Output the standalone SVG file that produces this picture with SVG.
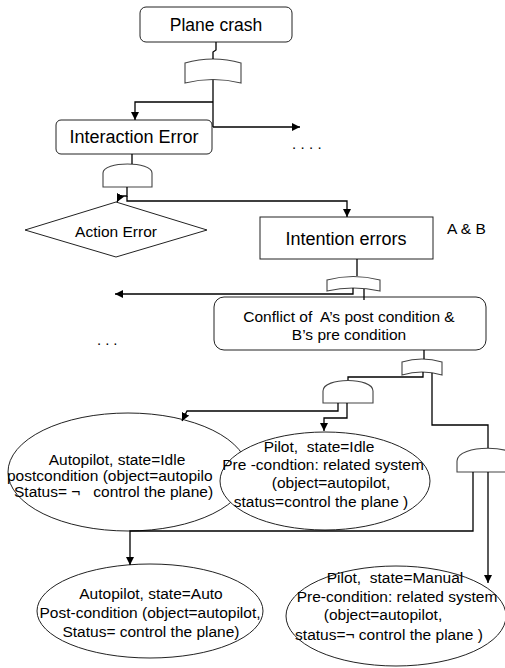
<svg xmlns="http://www.w3.org/2000/svg" width="505" height="668" viewBox="0 0 505 668">
<defs>
<marker id="arr" viewBox="0 0 10 10" refX="10" refY="5" markerWidth="8" markerHeight="8" markerUnits="userSpaceOnUse" orient="auto">
<path d="M0,0 L10,5 L0,10 Z" fill="#000"/>
</marker>
<style>
.box{fill:#fff;stroke:#222;stroke-width:1}
.gate{fill:#fff;stroke:#444;stroke-width:1.1}
.t{font-family:"Liberation Sans",Arial,sans-serif;fill:#000;white-space:pre}
.c{text-anchor:middle}
.ln{fill:none;stroke:#000;stroke-width:1.3}
.la{fill:none;stroke:#000;stroke-width:1.3;marker-end:url(#arr)}
</style>
</defs>
<rect width="505" height="668" fill="#fff"/>

<g id="plane-crash">
<rect class="box" x="140" y="7" width="152" height="35" rx="6"/>
<text class="t c" x="216" y="31" font-size="17.5">Plane crash</text>
</g>
<g id="or-gate-1">
<path class="gate" d="M185,63 Q213,55 241,63 L241,83 Q213,76 185,83 Z"/>
</g>
<g id="interaction-error">
<rect class="box" x="56" y="120" width="156" height="34" rx="5"/>
<text class="t c" x="134" y="143" font-size="18">Interaction Error</text>
</g>
<g id="dots-1">
<text class="t" x="292" y="149" font-size="15" letter-spacing="4.3">....</text>
</g>
<g id="and-gate-1">
<path class="gate" d="M103,187 L103,173 C103,161 152,161 152,173 L152,187 Z"/>
</g>
<g id="action-error">
<path class="box" d="M25,230 L116,202 L207,230 L116,257 Z"/>
<text class="t c" x="116" y="237" font-size="15.5">Action Error</text>
</g>
<g id="intention-errors">
<rect class="box" x="260" y="217" width="173" height="42"/>
<text class="t c" x="346" y="245" font-size="18">Intention errors</text>
</g>
<g id="label-ab">
<text class="t" x="447" y="234" font-size="15.5">A &amp; B</text>
</g>
<g id="or-gate-2">
<path class="gate" d="M327,280 Q353,273 380,280 L380,291 Q353,285 327,291 Z"/>
</g>
<g id="dots-2">
<text class="t" x="97" y="345" font-size="15" letter-spacing="4">...</text>
</g>
<g id="conflict">
<rect class="box" x="214" y="297" width="272" height="53" rx="10"/>
<text class="t c" x="349" y="322" font-size="15.5">Conflict of  A’s post condition &amp;</text>
<text class="t c" x="349" y="340" font-size="15.5">B’s pre condition</text>
</g>
<g id="or-gate-3">
<path class="gate" d="M402,362 Q422,356 442,362 L442,375 Q422,369 402,375 Z"/>
</g>
<g id="and-gate-2">
<path class="gate" d="M323,403 L323,391 C323,377 373,377 373,391 L373,403 Z"/>
</g>
<g id="and-gate-3">
<path class="gate" d="M457,472 L457,461 C457,444 519,444 519,461 L519,472 Z"/>
</g>
<g id="autopilot-idle">
<ellipse class="box" cx="128" cy="472" rx="120" ry="59"/>
<text class="t c" x="117" y="465" font-size="15.5">Autopilot, state=Idle</text>
<text class="t" x="7" y="481" font-size="15.5">postcondition (object=autopilo</text>
<text class="t" x="14" y="497" font-size="15.5">Status= ¬   control the plane)</text>
</g>
<g id="pilot-idle">
<ellipse class="box" cx="325" cy="481" rx="105" ry="49"/>
<text class="t c" x="319" y="452" font-size="15.5">Pilot,  state=Idle</text>
<text class="t c" x="323" y="470" font-size="15.5">Pre -condtion: related system</text>
<text class="t c" x="331" y="488" font-size="15.5">(object=autopilot,</text>
<text class="t c" x="321" y="507" font-size="15.5">status=control the plane )</text>
</g>
<g id="autopilot-auto">
<ellipse class="box" cx="150" cy="611" rx="113" ry="47"/>
<text class="t c" x="151" y="599" font-size="15.5">Autopilot, state=Auto</text>
<text class="t c" x="150" y="618" font-size="15.5">Post-condition (object=autopilot,</text>
<text class="t c" x="151" y="637" font-size="15.5">Status= control the plane)</text>
</g>
<g id="pilot-manual">
<ellipse class="box" cx="396" cy="616" rx="110" ry="50"/>
<text class="t c" x="395" y="583" font-size="15.5">Pilot,  state=Manual</text>
<text class="t c" x="397" y="602" font-size="15.5">Pre-condition: related system</text>
<text class="t c" x="383" y="620" font-size="15.5">(object=autopilot,</text>
<text class="t c" x="389" y="640" font-size="15.5">status=¬ control the plane )</text>
</g>

<g id="connectors">
<path class="ln" d="M216,42 L216,50 L213,52 L213,59"/>
<path class="ln" d="M213,80 L213,127"/>
<path class="la" d="M213,102 L135,102 L135,120"/>
<path class="la" d="M213,127 L300,127"/>
<path class="ln" d="M132,154 L132,164"/>
<path class="la" d="M127,187 L127,196 L120,196 L117,202"/>
<path class="la" d="M127,196 L127,201 L347,201 L347,217"/>
<path class="ln" d="M357,259 L357,276"/>
<path class="la" d="M353,288 L353,294 L115,294"/>
<path class="ln" d="M364,289 L364,300"/>
<path class="ln" d="M424,350 L424,359"/>
<path class="ln" d="M423,372 L423,377 L348,377 L348,380"/>
<path class="la" d="M338,403 L338,411 L187,411 L182,421"/>
<path class="la" d="M347,403 L347,418 L324,418 L324,431"/>
<path class="ln" d="M432,373 L432,425 L488,425 L488,448"/>
<path class="la" d="M473,472 L473,531 L130,531 L130,565"/>
<path class="la" d="M488,472 L488,583"/>
</g>
</svg>
